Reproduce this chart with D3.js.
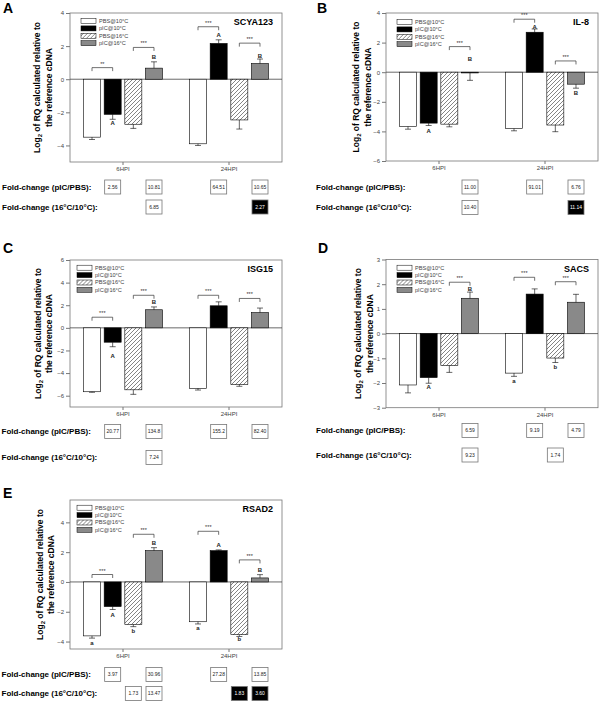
<!DOCTYPE html>
<html><head><meta charset="utf-8">
<script src="https://cdn.jsdelivr.net/npm/d3@7"></script>
<style>body{margin:0;background:#fff} svg{display:block;font-family:"Liberation Sans",Arial,sans-serif}</style>
</head><body><svg id="c" width="600" height="704"></svg>
<script>
const groups = ["6HPI", "24HPI"];
const series = ["PBS@10°C", "pIC@10°C", "PBS@16°C", "pIC@16°C"];
const genes = ["SCYA123", "IL-8", "ISG15", "SACS", "RSAD2"];
const foldRowLabels = ["Fold-change (pIC/PBS):", "Fold-change (16°C/10°C):"];

// mean log2 RQ: [6HPI bars, 24HPI bars]
const meanSCYA123 = [[-3.5, -2.12, -2.72, 0.67], [-3.9, 2.16, -2.46, 0.95]];
const meanIL8     = [[-3.67, -3.44, -3.51, -0.05], [-3.81, 2.7, -3.57, -0.81]];
const meanISG15   = [[-5.65, -1.27, -5.48, 1.6], [-5.35, 1.95, -5.02, 1.35]];
const meanSACS    = [[-2.08, -1.78, -1.29, 1.43], [-1.6, 1.6, -0.99, 1.27]];
const meanRSAD2   = [[-3.62, -1.65, -2.85, 2.1], [-2.67, 2.1, -3.54, 0.27]];

const errSCYA123 = [[0.14, 0.3, 0.25, 0.38], [0.1, 0.22, 0.55, 0.27]];
const errIL8     = [[0.18, 0.16, 0.18, 0.5], [0.15, 0.22, 0.45, 0.27]];
const errISG15   = [[0.05, 0.4, 0.4, 0.25], [0.15, 0.35, 0.15, 0.4]];
const errSACS    = [[0.32, 0.23, 0.28, 0.25], [0.13, 0.21, 0.18, 0.32]];
const errRSAD2   = [[0.15, 0.2, 0.15, 0.2], [0.15, 0.05, 0.12, 0.22]];

// significance letters: [group, bar, letter, level]
const lettersSCYA123 = [[0,1,"A",-2.63],[0,3,"B",1.37],[1,1,"A",2.68],[1,3,"B",1.41]];
const lettersIL8     = [[0,1,"A",-3.97],[0,3,"B",0.88],[1,1,"A",3.08],[1,3,"B",-1.38]];
const lettersISG15   = [[0,1,"A",-2.45],[0,3,"B",2.26]];
const lettersSACS    = [[0,1,"A",-2.17],[0,3,"B",1.81],[1,0,"a",-1.91],[1,2,"b",-1.34]];
const lettersRSAD2   = [[0,0,"a",-4.09],[0,1,"A",-2.19],[0,2,"b",-3.29],[0,3,"B",2.62],
                        [1,0,"a",-3.06],[1,1,"A",2.51],[1,2,"b",-3.85],[1,3,"B",0.79]];

// brackets: [group, barFrom, barTo, level, stars]
const bracketsSCYA123 = [[0,0,1,0.7,"**"],[0,2,3,1.92,"***"],[1,0,1,3.17,"***"],[1,2,3,2.18,"***"]];
const bracketsIL8     = [[0,2,3,1.73,"***"],[1,0,1,3.58,"***"],[1,2,3,0.76,"***"]];
const bracketsISG15   = [[0,0,1,0.94,"***"],[0,2,3,2.88,"***"],[1,0,1,2.88,"***"],[1,2,3,2.6,"***"]];
const bracketsSACS    = [[0,2,3,2.08,"***"],[1,0,1,2.28,"***"],[1,2,3,2.1,"***"]];
const bracketsRSAD2   = [[0,0,1,0.5,"***"],[0,2,3,3.2,"***"],[1,0,1,3.4,"***"],[1,2,3,1.48,"***"]];

// fold-change boxes: [row, group, bar, text, down-regulated]
const foldSCYA123 = [[0,0,1,"2.56",0],[0,0,3,"10.81",0],[0,1,1,"64.51",0],[0,1,3,"10.65",0],[1,0,3,"6.85",0],[1,1,3,"2.27",1]];
const foldIL8     = [[0,0,3,"11.00",0],[0,1,1,"91.01",0],[0,1,3,"6.76",0],[1,0,3,"10.40",0],[1,1,3,"11.14",1]];
const foldISG15   = [[0,0,1,"20.77",0],[0,0,3,"134.8",0],[0,1,1,"155.2",0],[0,1,3,"82.40",0],[1,0,3,"7.24",0]];
const foldSACS    = [[0,0,3,"6.59",0],[0,1,1,"9.19",0],[0,1,3,"4.79",0],[1,0,3,"9.23",0],[1,1,2,"1.74",0]];
const foldRSAD2   = [[0,0,1,"3.97",0],[0,0,3,"30.96",0],[0,1,1,"27.28",0],[0,1,3,"13.85",0],
                     [1,0,2,"1.73",0],[1,0,3,"13.47",0],[1,1,2,"1.83",1],[1,1,3,"3.60",1]];

const panelData = [
  {mean: meanSCYA123, err: errSCYA123, letters: lettersSCYA123, brackets: bracketsSCYA123, fold: foldSCYA123, dom: [-5, 4], step: 2},
  {mean: meanIL8, err: errIL8, letters: lettersIL8, brackets: bracketsIL8, fold: foldIL8, dom: [-6, 4], step: 2},
  {mean: meanISG15, err: errISG15, letters: lettersISG15, brackets: bracketsISG15, fold: foldISG15, dom: [-7, 6], step: 2},
  {mean: meanSACS, err: errSACS, letters: lettersSACS, brackets: bracketsSACS, fold: foldSACS, dom: [-3, 3], step: 1},
  {mean: meanRSAD2, err: errRSAD2, letters: lettersRSAD2, brackets: bracketsRSAD2, fold: foldRSAD2, dom: [-4.5, 5.5], step: 2}
];
const panelLetters = ["A", "B", "C", "D", "E"];

// layout (pixels)
const layout = [
  {lx:3,   ly:13,  x0:70,  x1:282, y0:13,    y1:162,   leg:[11,8],   tx:[37.5,49],  fy:[180,200],   fx:2},
  {lx:317, ly:13,  x0:386, x1:598, y0:13,    y1:161,   leg:[11,9],   tx:[356,368],  fy:[180,200.5], fx:316},
  {lx:3,   ly:253, x0:70,  x1:282, y0:260,   y1:407,   leg:[7,7.7],  tx:[37.7,49],  fy:[424.5,450.5], fx:1.5},
  {lx:318, ly:253, x0:386, x1:598, y0:259.5, y1:407.7, leg:[11,8.2], tx:[358,370],  fy:[423.5,448], fx:316},
  {lx:3,   ly:498, x0:70,  x1:282, y0:500,   y1:649,   leg:[7,7.7],  tx:[40,50.7],  fy:[667.5,686.5], fx:1.5}
];

const svg = d3.select("#c");
const defs = svg.append("defs");
const ph = defs.append("pattern").attr("id", "hatch").attr("patternUnits", "userSpaceOnUse")
  .attr("width", 4).attr("height", 4);
ph.append("rect").attr("width", 4).attr("height", 4).attr("fill", "#fff");
ph.append("path").attr("d", "M-1,1 l2,-2 M0,4 l4,-4 M3,5 l2,-2")
  .attr("stroke", "#333").attr("stroke-width", 0.6);
const pc = defs.append("pattern").attr("id", "cross").attr("patternUnits", "userSpaceOnUse")
  .attr("width", 2).attr("height", 2);
pc.append("rect").attr("width", 2).attr("height", 2).attr("fill", "#bdbdbd");
pc.append("path").attr("d", "M0,0 l2,2 M2,0 l-2,2").attr("stroke", "#555").attr("stroke-width", 0.5);
const fills = ["#fff", "#000", "url(#hatch)", "url(#cross)"];

panelData.forEach((d, pi) => {
  const L = layout[pi];
  const g = svg.append("g");
  const x = d3.scaleBand().domain(groups).range([L.x0, L.x1]);
  const xi = d3.scaleBand().domain(d3.range(series.length))
    .range([13.5, x.bandwidth() - 13.5]).paddingInner(0.177);
  const y = d3.scaleLinear().domain(d.dom).range([L.y1, L.y0]);
  const ticks = d3.range(Math.ceil(d.dom[0] / d.step) * d.step, d.dom[1] + 1e-9, d.step);
  const bx = (gi, bi) => x(groups[gi]) + xi(bi);
  const bw = xi.bandwidth();

  // panel letter
  g.append("text").attr("x", L.lx).attr("y", L.ly).attr("font-size", 14).attr("font-weight", "bold").text(panelLetters[pi]);

  // frame
  g.append("rect").attr("x", L.x0).attr("y", L.y0).attr("width", L.x1 - L.x0).attr("height", L.y1 - L.y0)
    .attr("fill", "none").attr("stroke", "#777").attr("stroke-width", 0.8);

  // axes
  const ya = g.append("g").attr("transform", `translate(${L.x0},0)`)
    .call(d3.axisLeft(y).tickValues(ticks).tickSize(4).tickPadding(2).tickFormat(d3.format("d")));
  ya.select(".domain").remove();
  ya.selectAll("line").attr("stroke", "#777");
  ya.selectAll("text").attr("font-size", 6).attr("fill", "#444").attr("font-family", null);
  const xa = g.append("g").attr("transform", `translate(0,${L.y1})`)
    .call(d3.axisBottom(x).tickSize(3).tickPadding(2));
  xa.select(".domain").remove();
  xa.selectAll("line").attr("stroke", "#777");
  xa.selectAll("text").attr("font-size", 6).attr("fill", "#444").attr("font-family", null);

  // y title
  const yc = (L.y0 + L.y1) / 2;
  const t1 = g.append("text").attr("transform", `translate(${L.tx[0]},${yc}) rotate(-90)`)
    .attr("text-anchor", "middle").attr("dy", "0.35em").attr("font-size", 8.5).attr("font-weight", "bold");
  t1.append("tspan").text("Log");
  t1.append("tspan").attr("font-size", 6).attr("dy", "2").text("2");
  t1.append("tspan").attr("dy", "-2").text(" of RQ calculated relative to");
  g.append("text").attr("transform", `translate(${L.tx[1]},${yc}) rotate(-90)`)
    .attr("text-anchor", "middle").attr("dy", "0.35em").attr("font-size", 8.5).attr("font-weight", "bold")
    .text("the reference cDNA");

  // zero line
  g.append("line").attr("x1", L.x0).attr("x2", L.x1).attr("y1", y(0)).attr("y2", y(0))
    .attr("stroke", "#444").attr("stroke-width", 0.8);

  // bars + error bars
  const flat = [];
  d.mean.forEach((row, gi) => row.forEach((v, bi) => flat.push({gi, bi, v, e: d.err[gi][bi]})));
  g.selectAll("rect.bar").data(flat).join("rect").attr("class", "bar")
    .attr("x", p => bx(p.gi, p.bi)).attr("width", bw)
    .attr("y", p => Math.min(y(0), y(p.v))).attr("height", p => Math.abs(y(p.v) - y(0)))
    .attr("fill", p => fills[p.bi]).attr("stroke", "#000").attr("stroke-width", 0.6);
  const eb = g.selectAll("g.err").data(flat).join("g").attr("class", "err")
    .attr("stroke", "#000").attr("stroke-width", 0.6);
  eb.append("line").attr("x1", p => bx(p.gi, p.bi) + bw / 2).attr("x2", p => bx(p.gi, p.bi) + bw / 2)
    .attr("y1", p => y(p.v)).attr("y2", p => y(p.v + Math.sign(p.v || -1) * p.e));
  eb.append("line").attr("x1", p => bx(p.gi, p.bi) + bw / 2 - 3).attr("x2", p => bx(p.gi, p.bi) + bw / 2 + 3)
    .attr("y1", p => y(p.v + Math.sign(p.v || -1) * p.e)).attr("y2", p => y(p.v + Math.sign(p.v || -1) * p.e));

  // letters
  g.selectAll("text.let").data(d.letters).join("text").attr("class", "let")
    .attr("x", p => bx(p[0], p[1]) + bw / 2).attr("y", p => y(p[3])).attr("dy", "0.35em")
    .attr("text-anchor", "middle").attr("font-size", 6).attr("font-weight", "bold").attr("fill", "#222")
    .text(p => p[2]);

  // brackets
  const br = g.selectAll("g.br").data(d.brackets).join("g").attr("class", "br");
  br.append("path").attr("fill", "none").attr("stroke", "#333").attr("stroke-width", 0.7)
    .attr("d", p => {
      const xa1 = bx(p[0], p[1]) + bw / 2, xb1 = bx(p[0], p[2]) + bw / 2, yy = y(p[3]);
      return `M${xa1},${yy + 3.5}V${yy}H${xb1}V${yy + 3.5}`;
    });
  br.append("text").attr("x", p => (bx(p[0], p[1]) + bx(p[0], p[2])) / 2 + bw / 2)
    .attr("y", p => y(p[3]) - 2).attr("text-anchor", "middle").attr("font-size", 5.5).attr("fill", "#333")
    .text(p => p[4]);

  // gene name
  g.append("text").attr("x", L.x1 - 9).attr("y", L.y0 + 12).attr("text-anchor", "end")
    .attr("font-size", 9).attr("font-weight", "bold").text(genes[pi]);

  // legend
  const lg = g.selectAll("g.leg").data(series).join("g").attr("class", "leg")
    .attr("transform", (s, i) => `translate(${L.x0 + L.leg[0]},${L.y0 + L.leg[1] + i * 7.4})`);
  lg.append("rect").attr("x", 0).attr("y", -2.5).attr("width", 15).attr("height", 5)
    .attr("fill", (s, i) => fills[i]).attr("stroke", "#000").attr("stroke-width", 0.5);
  lg.append("text").attr("x", 18).attr("y", 0).attr("dy", "0.35em").attr("font-size", 5.6).attr("fill", "#444")
    .text(s => s);

  // fold-change rows
  foldRowLabels.forEach((lab, ri) => {
    g.append("text").attr("x", L.fx).attr("y", L.fy[ri] + 7).attr("dy", "0.35em")
      .attr("font-size", 8).attr("font-weight", "bold").text(lab);
  });
  const fb = g.selectAll("g.fold").data(d.fold).join("g").attr("class", "fold");
  fb.append("rect").attr("x", p => bx(p[1], p[2]) + 0.5).attr("y", p => L.fy[p[0]])
    .attr("width", bw - 1).attr("height", 14)
    .attr("fill", p => p[4] ? "#000" : "#fff").attr("stroke", "#777").attr("stroke-width", 0.8);
  fb.append("text").attr("x", p => bx(p[1], p[2]) + bw / 2).attr("y", p => L.fy[p[0]] + 7).attr("dy", "0.35em")
    .attr("text-anchor", "middle").attr("font-size", 5).attr("fill", p => p[4] ? "#fff" : "#222")
    .text(p => p[3]);
});
</script></body></html>
